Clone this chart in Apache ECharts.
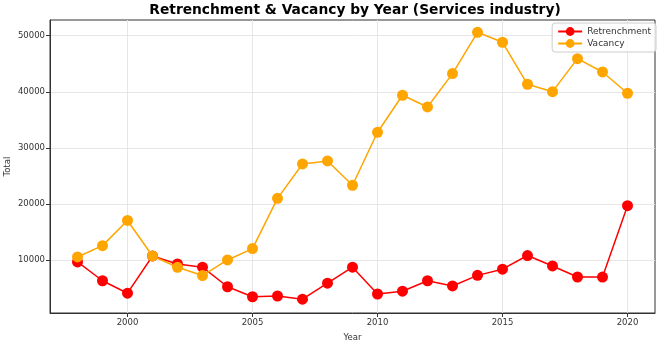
<!DOCTYPE html>
<html><head><meta charset="utf-8">
<script src="https://cdn.jsdelivr.net/npm/echarts@6/dist/echarts.min.js"></script>
<style>html,body{margin:0;padding:0;background:#fff}#c{width:664px;height:346px}</style>
</head><body><div id="c"></div>
<script>
const years = [1998,1999,2000,2001,2002,2003,2004,2005,2006,2007,2008,2009,2010,2011,2012,2013,2014,2015,2016,2017,2018,2019,2020];
const retrenchment = [9650,6300,4080,10720,9290,8720,5230,3450,3580,3020,5870,8720,3940,4440,6300,5370,7260,8360,10800,8940,6970,6950,19680];
const vacancy = [10540,12560,17050,10720,8700,7230,10010,12030,21000,27130,27660,23330,32780,39380,37290,43240,50610,48830,41340,40020,45910,43530,39740];
const xTicks = [2000,2005,2010,2015,2020];
const yTicks = [10000,20000,30000,40000,50000];

const font = 'DejaVu Sans';
const chart = echarts.init(document.getElementById('c'), null, {renderer:'canvas'});
chart.setOption({
  animation:false,
  backgroundColor:'#fff',
  title:{text:'Retrenchment & Vacancy by Year (Services industry)', left:350, textAlign:'center', top:-2,
    textStyle:{fontFamily:font, fontWeight:'bold', fontSize:13.8, color:'#000'}},
  legend:{right:8, top:23, orient:'vertical', itemWidth:24, itemHeight:11, itemGap:3,
    borderColor:'#ccc', borderWidth:1, borderRadius:3, padding:[4,5,4,5], backgroundColor:'rgba(255,255,255,0.8)',
    textStyle:{fontFamily:font, fontSize:9, color:'#333'}},
  grid:{left:50, right:9, top:20, bottom:33, containLabel:false, outerBoundsMode:'none', show:true, borderColor:'#333', borderWidth:1},
  xAxis:{type:'value', min:1996.9, max:2021.1, name:'Year', nameLocation:'middle', nameGap:20, nameMoveOverlap:false,
    nameTextStyle:{fontFamily:font, fontSize:8.5, color:'#333'},
    axisLine:{show:true, lineStyle:{color:'#333'}},
    axisTick:{show:true, length:4, lineStyle:{color:'#333'}, customValues:xTicks},
    axisLabel:{fontFamily:font, fontSize:8.5, color:'#333', margin:5, customValues:xTicks, formatter:v=>String(v)},
    splitLine:{show:true, lineStyle:{color:'#e6e6e6'}, customValues:xTicks}},
  yAxis:{type:'value', min:550, max:52800, name:'Total', nameLocation:'middle', nameGap:42, nameRotate:90, nameMoveOverlap:false,
    nameTextStyle:{fontFamily:font, fontSize:8.5, color:'#333', verticalAlign:'middle'},
    axisLine:{show:true, lineStyle:{color:'#333'}},
    axisTick:{show:true, length:4, lineStyle:{color:'#333'}, customValues:yTicks},
    axisLabel:{fontFamily:font, fontSize:8.5, color:'#333', margin:5, customValues:yTicks, formatter:v=>String(v)},
    splitLine:{show:true, lineStyle:{color:'#e6e6e6'}, customValues:yTicks}},
  series:[
    {name:'Retrenchment', type:'line', data:years.map((y,i)=>[y,retrenchment[i]]),
      symbol:'circle', symbolSize:11, itemStyle:{color:'#ff0000'}, lineStyle:{color:'#ff0000', width:1.5}, z:3},
    {name:'Vacancy', type:'line', data:years.map((y,i)=>[y,vacancy[i]]),
      symbol:'circle', symbolSize:11, itemStyle:{color:'#ffa500'}, lineStyle:{color:'#ffa500', width:1.5}, z:4}
  ]
});
</script></body></html>
